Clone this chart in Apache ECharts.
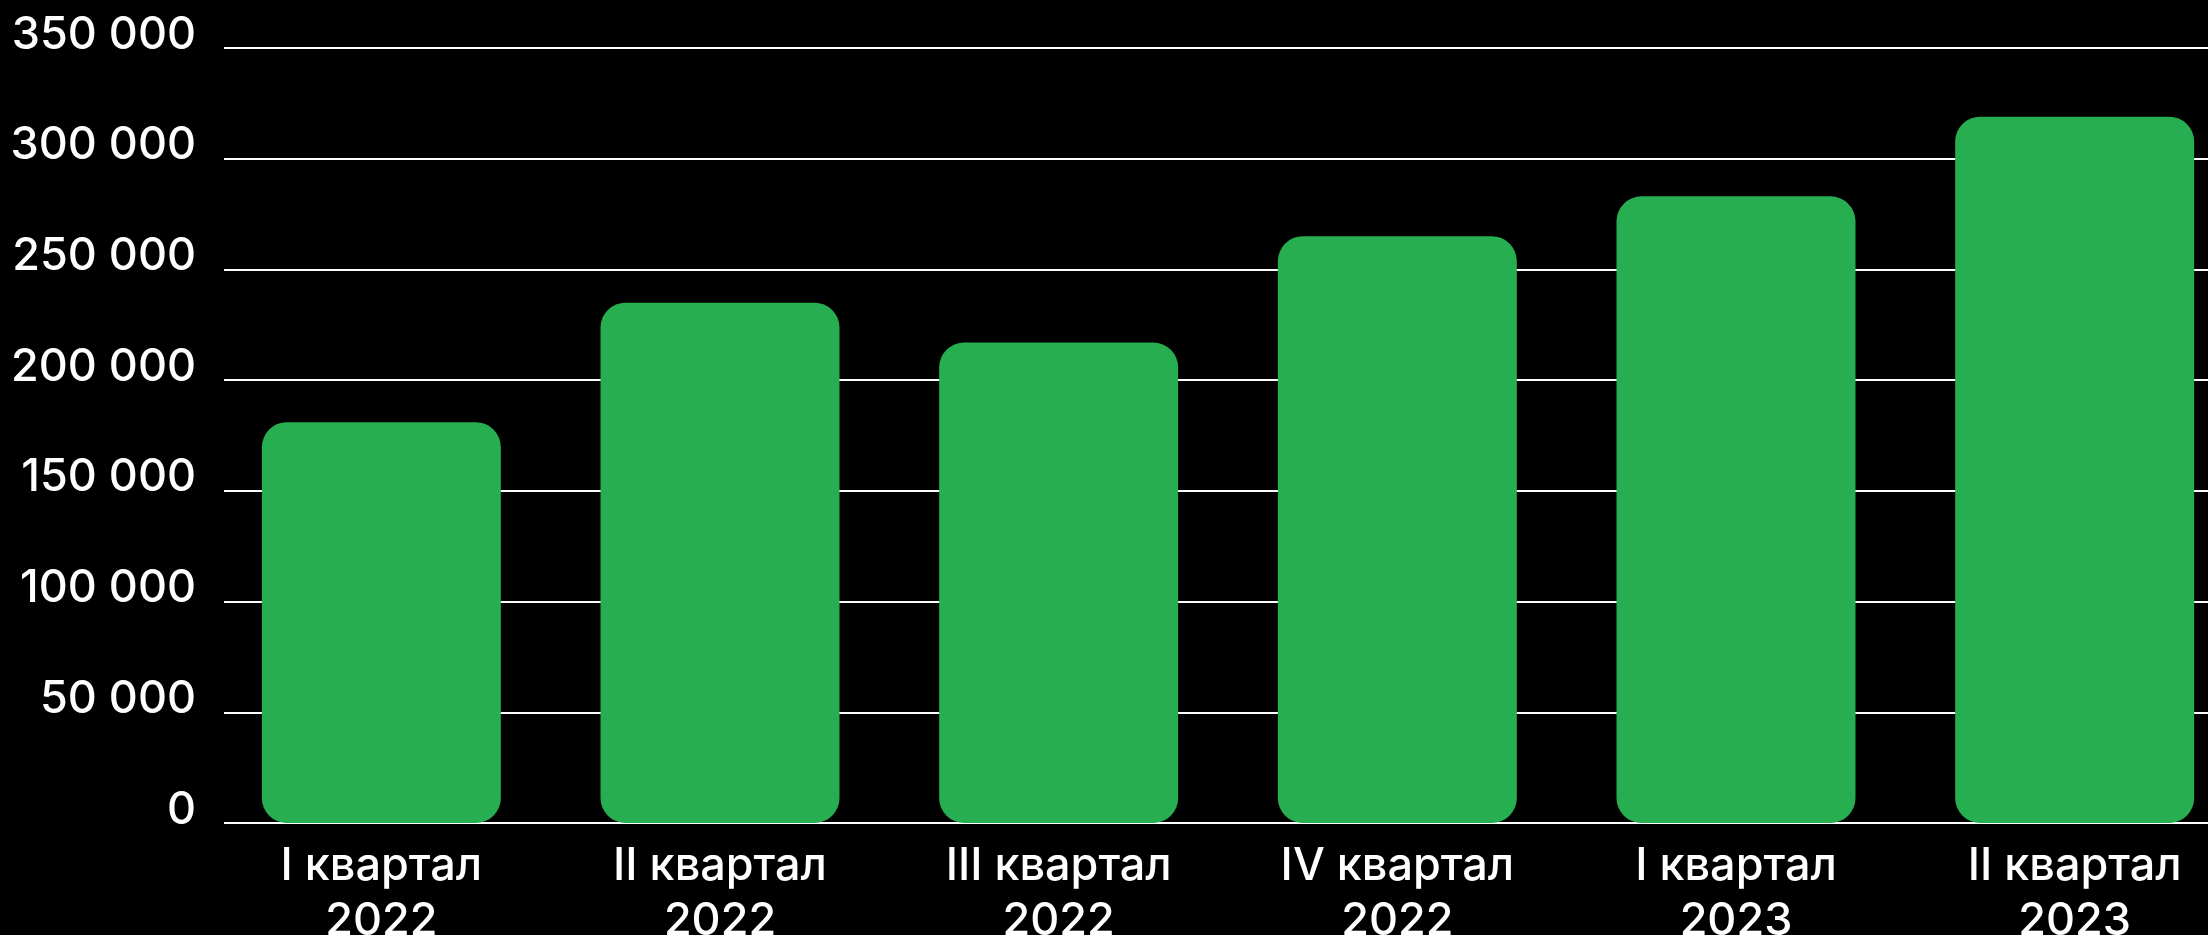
<!DOCTYPE html>
<html>
<head>
<meta charset="utf-8">
<script src="https://cdn.jsdelivr.net/npm/echarts@6/dist/echarts.min.js"></script>
<style>
  html, body { margin: 0; padding: 0; background: #000; }
  #chart { width: 2208px; height: 935px; }
</style>
</head>
<body>
<div id="chart"></div>
<script>
const categories = ['I квартал\n2022', 'II квартал\n2022', 'III квартал\n2022', 'IV квартал\n2022', 'I квартал\n2023', 'II квартал\n2023'];
const values = [181000, 235000, 217000, 265000, 283000, 319000];
const yMin = 0;
const yMax = 350000;
const yStep = 50000;

const font = 'Inter, "Noto Sans", sans-serif';

const chart = echarts.init(document.getElementById('chart'));

chart.setOption({
  backgroundColor: '#000',
  animation: false,
  grid: [
    // gridlines + y labels
    { left: 224, right: 0, top: 48, bottom: 112, outerBoundsMode: 'none' },
    // bars
    { left: 212, width: 2032, top: 48, bottom: 112, outerBoundsMode: 'none' }
  ],
  xAxis: [
    { gridIndex: 0, type: 'value', show: false },
    {
      gridIndex: 1,
      type: 'category',
      data: categories,
      axisLine: { show: false },
      axisTick: { show: false },
      axisLabel: {
        color: '#fff',
        fontFamily: font,
        fontSize: 45,
        fontWeight: 500,
        lineHeight: 55,
        margin: 16
      }
    }
  ],
  yAxis: [
    {
      gridIndex: 0,
      type: 'value',
      min: yMin,
      max: yMax,
      interval: yStep,
      axisLine: { show: false },
      axisTick: { show: false },
      axisLabel: {
        color: '#fff',
        fontFamily: font,
        fontSize: 45,
        fontWeight: 500,
        lineHeight: 26,
        verticalAlign: 'bottom',
        margin: 28,
        formatter: v => String(v).replace(/\B(?=(\d{3})+(?!\d))/g, ' ')
      },
      splitLine: { show: true, lineStyle: { color: '#fff', width: 2 } }
    },
    {
      gridIndex: 1,
      type: 'value',
      min: yMin,
      max: yMax,
      interval: yStep,
      show: false
    }
  ],
  series: [{
    type: 'bar',
    xAxisIndex: 1,
    yAxisIndex: 1,
    data: values,
    barWidth: 239,
    itemStyle: {
      color: '#26AE51',
      borderRadius: 25
    }
  }]
});
</script>
</body>
</html>
